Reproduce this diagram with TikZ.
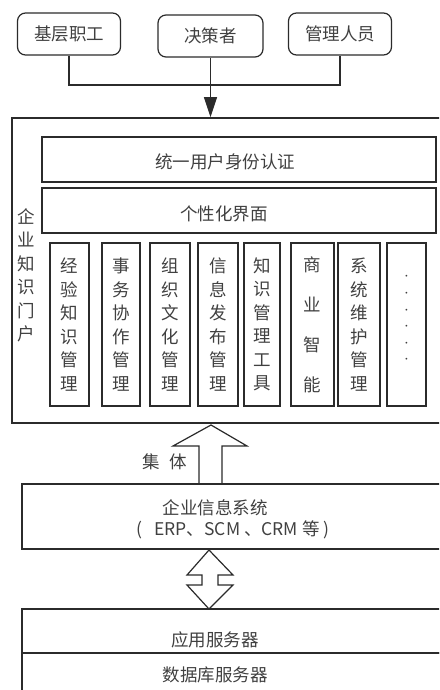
\documentclass[tikz,border=0pt]{standalone}
\usepackage{fontspec}
\newfontfamily\cjk{Noto Sans CJK SC}
\usetikzlibrary{arrows.meta}

\definecolor{ink}{HTML}{2B2B2B}

\tikzset{
  role/.style={draw, rounded corners=8pt, minimum width=103pt, minimum height=42pt, inner sep=0pt},
  layer/.style={draw, minimum width=394pt, minimum height=45pt, inner sep=0pt},
  module/.style={draw, minimum height=163pt, inner sep=0pt, align=center},
  tier/.style={draw, minimum width=448pt, inner sep=0pt},
}

\begin{document}
\begin{tikzpicture}[x=1pt, y=-1pt, ink, line width=1.2pt,
    every node/.style={font=\cjk\fontsize{17.5}{23.5}\selectfont, text=ink!90}]
  \useasboundingbox (0,0) rectangle (439,690);
  \clip (0,0) rectangle (439,690);

  % users on top
  \node[role] (staff) at (69,34) {基层职工};
  \node[role, minimum width=105pt] (boss) at (210.5,36) {决策者};
  \node[role] (manager) at (340,34) {管理人员};

  % portal frame
  \node[draw, line width=1.6pt, minimum width=458pt, minimum height=305pt] (portal) at (241,270.5) {};
  \node[align=center] (portal-name) at (26,275.5) {企\\业\\知\\识\\门\\户};

  \coordinate (join) at (217,85);
  \draw (staff.south) |- (join) -| (manager.south);
  \draw[-{Triangle[length=20pt,width=13pt]}] (boss.south) -- (boss.south |- portal.north);

  \node[layer, label={[xshift=-14pt, yshift=-2pt]center:统一用户身份认证}] (auth) at (239,159.5) {};
  \node[layer, label={[xshift=-15pt, yshift=-3pt]center:个性化界面}] (ui) at (239,210.5) {};

  % modules
  \node[module, minimum width=39pt] (m1) at (69.5,324.5) {经\\验\\知\\识\\管\\理};
  \node[module, minimum width=38pt] (m2) at (121,324.5) {事\\务\\协\\作\\管\\理};
  \node[module, minimum width=40pt] (m3) at (170,324.5) {组\\织\\文\\化\\管\\理};
  \node[module, minimum width=40pt] (m4) at (218,324.5) {信\\息\\发\\布\\管\\理};
  \node[module, minimum width=36pt] (m5) at (262,324.5) {知\\识\\管\\理\\工\\具};
  \node[module, minimum width=43pt, font=\cjk\fontsize{17.5}{40}\selectfont] (m6) at (312.5,324.5) {商\\业\\智\\能};
  \node[module, minimum width=42pt] (m7) at (359,324.5) {系\\统\\维\\护\\管\\理};
  \node[module, minimum width=39pt, label={[yshift=6pt, align=center, font=\fontsize{17.5}{16.6}\selectfont]center:$\cdot$\\$\cdot$\\$\cdot$\\$\cdot$\\$\cdot$\\$\cdot$}] (m8) at (406.5,324.5) {};

  % integration arrow
  \draw[fill=white] (199,484) -- (199,446) -- (173,446) -- (211,425) -- (247,446) -- (222,446) -- (222,484);
  \node (collect) at (165,462) {集\hspace{10pt}体};

  % enterprise systems
  \node[tier, minimum height=65pt] (eis) at (246,516.5) {};
  \node (eis-name) at (215,508) {企业信息系统};
  \node (eis-list) at (233,530) {(\hspace{12pt}ERP、SCM 、CRM 等 )};

  % two-way arrow
  \draw[fill=white] (209,550) -- (233,575) -- (218,575) -- (218,585) -- (233,585) -- (209,609)
    -- (187,585) -- (202,585) -- (202,575) -- (187,575) -- cycle;

  % servers
  \node[tier, minimum height=44pt] (app) at (246,631) {};
  \node (app-name) at (215,640) {应用服务器};
  \node[tier, minimum height=70pt] (db) at (246,688) {};
  \node (db-name) at (215,675) {数据库服务器};
\end{tikzpicture}
\end{document}
